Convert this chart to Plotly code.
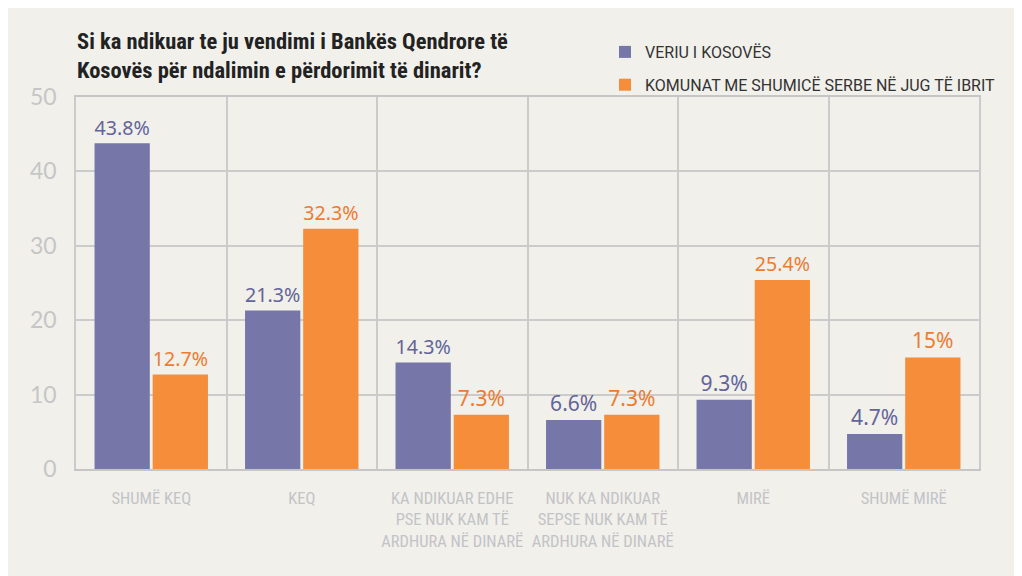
import plotly.graph_objects as go

categories = [
    "SHUMË KEQ",
    "KEQ",
    "KA NDIKUAR EDHE<br>PSE NUK KAM TË<br>ARDHURA NË DINARË",
    "NUK KA NDIKUAR<br>SEPSE NUK KAM TË<br>ARDHURA NË DINARË",
    "MIRË",
    "SHUMË MIRË",
]
series_names = ["VERIU I KOSOVËS", "KOMUNAT ME SHUMICË SERBE NË JUG TË IBRIT"]
veriu = [43.8, 21.3, 14.3, 6.6, 9.3, 4.7]
jug = [12.7, 32.3, 7.3, 7.3, 25.4, 15.0]
y_ticks = [0, 10, 20, 30, 40, 50]

title = "Si ka ndikuar te ju vendimi i Bankës Qendrore të<br>Kosovës për ndalimin e përdorimit të dinarit?"

BG = "#f1f0eb"
PURPLE = "#7676a8"
PURPLE_TXT = "#63649a"
ORANGE = "#f68d3a"
ORANGE_TXT = "#f07b30"
GRID = "#cbcbcb"
NARROW = ("Noto Sans ExtraCondensed, Noto Sans Condensed, Roboto Condensed, "
          "DejaVu Sans Condensed, Liberation Sans Narrow, Noto Sans, sans-serif")

L, R, T, B = 68, 51, 89, 115
PW, PH = 1022 - L - R, 576 - T - B


def fmt(v):
    return ("%g" % v) + "%"


def font(**kw):
    d = dict(kw)
    try:
        go.layout.title.Font(stretch="condensed")
        d["stretch"] = "condensed"
    except Exception:
        pass
    return d


fig = go.Figure()
fig.add_trace(go.Bar(
    x=categories, y=veriu, name=series_names[0], legendgroup="a",
    marker=dict(color=PURPLE, line=dict(width=0)),
    text=[fmt(v) for v in veriu], textposition="outside",
    textfont=dict(family="Noto Sans, Lato, sans-serif", size=21, color=PURPLE_TXT),
    cliponaxis=False,
))
fig.add_trace(go.Bar(
    x=categories, y=jug, name=series_names[1], legendgroup="b",
    marker=dict(color=ORANGE, line=dict(width=0)),
    text=[fmt(v) for v in jug], textposition="outside",
    textfont=dict(family="Noto Sans, Lato, sans-serif", size=21, color=ORANGE_TXT),
    cliponaxis=False,
))

fig.update_layout(
    width=1022, height=576,
    paper_bgcolor=BG, plot_bgcolor=BG,
    margin=dict(l=L, r=R, t=T, b=B, autoexpand=False),
    barmode="group", bargap=0.227, bargroupgap=0.05,
    title=dict(
        text=title,
        x=69 / 1022, xanchor="left", xref="container",
        y=1 - 41 / 576, yanchor="top", yref="container",
        font=font(family=NARROW, size=22.5, color="#222222", weight=700),
    ),
    legend=dict(
        x=(597 - L) / PW, xanchor="left",
        y=(576 - B - 27) / PH, yanchor="top",
        bgcolor="rgba(0,0,0,0)",
        font=dict(family="Roboto, DejaVu Sans, sans-serif", size=16, color="#333333"),
        traceorder="grouped", tracegroupgap=9,
        itemclick=False,
    ),
    xaxis=dict(
        type="category", range=[-0.5, 5.5],
        tickson="boundaries", ticks="", tickangle=0,
        showgrid=True, gridcolor=GRID, gridwidth=1.5,
        showline=True, linecolor="#c6c6c6", linewidth=2, mirror=True,
        tickfont=font(family=NARROW, size=16.5, color="#c3c3c7"),
        ticklabelstandoff=13,
        fixedrange=True,
    ),
    yaxis=dict(
        range=[0, 50], tickvals=y_ticks, ticktext=[str(t) for t in y_ticks],
        showgrid=True, gridcolor=GRID, gridwidth=1.5,
        zeroline=False,
        showline=True, linecolor=GRID, linewidth=1.5, mirror=True,
        ticks="", ticklabelstandoff=13,
        tickfont=dict(family="Lato, Noto Sans, sans-serif", size=23, color="#c6c6c6"),
        fixedrange=True,
    ),
)

fig.write_html("out.html")
